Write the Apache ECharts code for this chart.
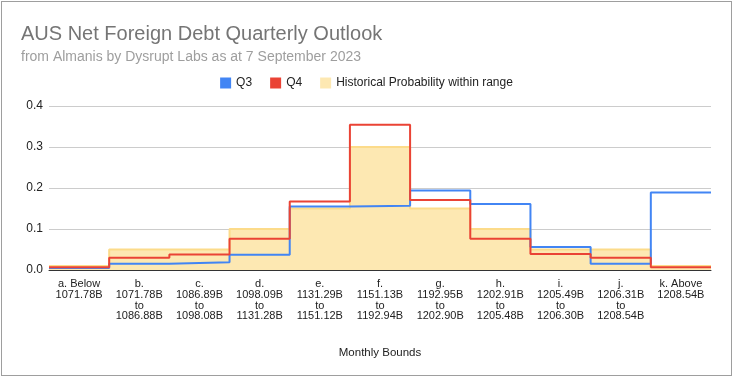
<!DOCTYPE html>
<html><head><meta charset="utf-8">
<script src="https://cdn.jsdelivr.net/npm/echarts@6/dist/echarts.min.js"></script>
<style>html,body{margin:0;padding:0;background:#fff}#c{box-sizing:border-box;border:1px solid #9e9e9e;position:absolute;left:1px;top:1px;width:731px;height:375px}</style>
</head><body><div id="c"></div>
<script>
const categories = [
  "a. Below\n1071.78B",
  "b.\n1071.78B\nto\n1086.88B",
  "c.\n1086.89B\nto\n1098.08B",
  "d.\n1098.09B\nto\n1131.28B",
  "e.\n1131.29B\nto\n1151.12B",
  "f.\n1151.13B\nto\n1192.94B",
  "g.\n1192.95B\nto\n1202.90B",
  "h.\n1202.91B\nto\n1205.48B",
  "i.\n1205.49B\nto\n1206.30B",
  "j.\n1206.31B\nto\n1208.54B",
  "k. Above\n1208.54B"
];
const q3 = [0.005, 0.015, 0.019, 0.037, 0.155, 0.157, 0.194, 0.161, 0.056, 0.015, 0.189];
const q4 = [0.007, 0.030, 0.038, 0.076, 0.167, 0.354, 0.171, 0.076, 0.039, 0.030, 0.007];
const historical = [0.01, 0.05, 0.05, 0.10, 0.15, 0.30, 0.15, 0.10, 0.05, 0.05, 0.01];
const yTicks = [0, 0.1, 0.2, 0.3, 0.4];

function steps(vals){
  const d = vals.map((v,i)=>[i,v]);
  d.push([vals.length, vals[vals.length-1]]);
  return d;
}
const FONT = 'Arial, "Liberation Sans", sans-serif';
const chart = echarts.init(document.getElementById('c'), null, {renderer:'canvas'});
chart.setOption({
  animation:false,
  textStyle:{fontFamily:FONT},
  title:{
    text:'AUS Net Foreign Debt Quarterly Outlook',
    subtext:'from Almanis by Dysrupt Labs as at 7 September 2023',
    left:14, top:17, itemGap:6,
    textStyle:{fontFamily:FONT,fontSize:20,fontWeight:'normal',color:'#757575'},
    subtextStyle:{fontFamily:FONT,fontSize:14,color:'#9e9e9e'}
  },
  legend:{
    top:70, left:'center', itemWidth:11, itemHeight:11, itemGap:18, icon:'rect',
    textStyle:{fontFamily:FONT,fontSize:12,color:'#222'},
    data:[
      {name:'Q3', itemStyle:{color:'#4285f4'}},
      {name:'Q4', itemStyle:{color:'#ea4335'}},
      {name:'Historical Probability within range', itemStyle:{color:'#fde8b2'}}
    ]
  },
  grid:{left:47, right:20, top:104, bottom:105},
  xAxis:[
    {type:'category', data:categories, boundaryGap:true, position:'bottom',
     axisLine:{show:true, lineStyle:{color:'#333', width:1}},
     axisTick:{show:false},
     axisLabel:{interval:0, fontFamily:FONT, fontSize:11, lineHeight:10.7, color:'#222', margin:9},
     name:'Monthly Bounds', nameLocation:'middle', nameGap:77,
     nameTextStyle:{fontFamily:FONT,fontSize:11.5,color:'#222'}},
    {type:'value', min:0, max:categories.length, show:false}
  ],
  yAxis:{type:'value', min:yTicks[0], max:yTicks[yTicks.length-1], interval:0.1,
    axisLine:{show:false}, axisTick:{show:false},
    splitLine:{lineStyle:{color:'#cccccc'}},
    axisLabel:{fontFamily:FONT,fontSize:12,color:'#222',margin:6, formatter:v=>v.toFixed(1)}},
  series:[
    {name:'Historical Probability within range', type:'line', xAxisIndex:1, step:'end', data:steps(historical),
     showSymbol:false, symbol:'none', color:'#fde8b2',
     lineStyle:{color:'#fcdb8a', width:2}, areaStyle:{color:'#fde8b2', opacity:1}, z:1},
    {name:'Q3', type:'line', xAxisIndex:1, step:'end', data:steps(q3), showSymbol:false, symbol:'none',
     color:'#4285f4', lineStyle:{color:'#4285f4', width:2}, z:3},
    {name:'Q4', type:'line', xAxisIndex:1, step:'end', data:steps(q4), showSymbol:false, symbol:'none',
     color:'#ea4335', lineStyle:{color:'#ea4335', width:2}, z:4}
  ]
});
</script></body></html>
